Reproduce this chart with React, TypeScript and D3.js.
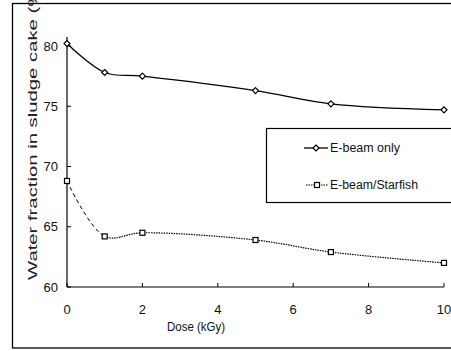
import React from "react";
import * as d3 from "d3";

const doses = [0, 1, 2, 5, 7, 10];
const ebeamOnly = [80.2, 77.8, 77.5, 76.3, 75.2, 74.7];
const ebeamStarfish = [68.8, 64.2, 64.5, 63.9, 62.9, 62.0];
const xTicks = [0, 2, 4, 6, 8, 10];
const yTicks = [60, 65, 70, 75, 80];
const seriesNames = ["E-beam only", "E-beam/Starfish"];

const W = 451;
const H = 351;

export default function App() {
  const x = d3.scaleLinear().domain([0, 10]).range([67, 444]);
  const y = d3.scaleLinear().domain([60, 80]).range([287, 46]);
  const font = "'Liberation Sans', Arial, sans-serif";

  const line = d3
    .line<number>()
    .x((_, i) => x(doses[i]))
    .y((v) => y(v))
    .curve(d3.curveCatmullRom.alpha(0.5));

  const topPath = line(ebeamOnly) || "";
  const botPath = line(ebeamStarfish) || "";
  const xSplit = x(doses[1]);

  const diamond = (cx: number, cy: number) =>
    `M${cx},${cy - 3}L${cx + 3},${cy}L${cx},${cy + 3}L${cx - 3},${cy}Z`;

  return (
    <svg width={W} height={H} style={{ position: "absolute", left: 0, top: 0, background: "#fff" }}>
      <defs>
        <clipPath id="leftPart">
          <rect x={0} y={0} width={xSplit} height={H} />
        </clipPath>
        <clipPath id="rightPart">
          <rect x={xSplit} y={0} width={W - xSplit} height={H} />
        </clipPath>
      </defs>
      {/* outer frame */}
      <rect x={12.5} y={3.5} width={460} height={344.5} fill="none" stroke="#000" strokeWidth={1.3} />

      {/* axes */}
      <line x1={67} y1={37} x2={67} y2={y(60)} stroke="#000" strokeWidth={1.2} />
      <line x1={67} y1={y(60)} x2={444} y2={y(60)} stroke="#000" strokeWidth={1.2} />
      {yTicks.map((t) => (
        <g key={"y" + t}>
          <line x1={67} x2={71} y1={y(t)} y2={y(t)} stroke="#000" strokeWidth={1} />
          <text x={58} y={y(t)} dy="0.36em" textAnchor="end" fontFamily={font} fontSize={13} fill="#111">
            {t}
          </text>
        </g>
      ))}
      {xTicks.map((t) => (
        <g key={"x" + t}>
          <line x1={x(t)} x2={x(t)} y1={y(60)} y2={y(60) - 4} stroke="#000" strokeWidth={1} />
          <text x={x(t)} y={314} textAnchor="middle" fontFamily={font} fontSize={13} fill="#111">
            {t}
          </text>
        </g>
      ))}
      <text x={196} y={331} textAnchor="middle" fontFamily={font} fontSize={12} fill="#111" textLength={58} lengthAdjust="spacingAndGlyphs">
        Dose (kGy)
      </text>
      <text
        transform="translate(37,280) rotate(-90)"
        x={0}
        y={0}
        textAnchor="start"
        fontFamily={font}
        fontSize={12}
        fill="#222"
        textLength={298}
        lengthAdjust="spacingAndGlyphs"
      >
        Water fraction in sludge cake (%)
      </text>

      {/* series */}
      <path d={topPath} fill="none" stroke="#000" strokeWidth={1.3} />
      <path d={botPath} fill="none" stroke="#000" strokeWidth={1} strokeDasharray="4,3" clipPath="url(#leftPart)" />
      <path d={botPath} fill="none" stroke="#000" strokeWidth={1.2} strokeDasharray="1.5,1" clipPath="url(#rightPart)" />
      {ebeamOnly.map((v, i) => (
        <path key={"d" + i} d={diamond(x(doses[i]), y(v))} fill="#fff" stroke="#000" strokeWidth={1.2} />
      ))}
      {ebeamStarfish.map((v, i) => (
        <rect key={"s" + i} x={x(doses[i]) - 2.5} y={y(v) - 2.5} width={5} height={5} fill="#fff" stroke="#000" strokeWidth={1.2} />
      ))}

      {/* legend */}
      <rect x={266.5} y={128.5} width={200} height={74} fill="#fff" stroke="#000" strokeWidth={1.2} />
      <line x1={304} x2={328} y1={148} y2={148} stroke="#000" strokeWidth={1.3} />
      <path d={diamond(316, 148)} fill="#fff" stroke="#000" strokeWidth={1.2} />
      <text x={330} y={152} fontFamily={font} fontSize={12.5} fill="#111" textLength={70} lengthAdjust="spacingAndGlyphs">
        {seriesNames[0]}
      </text>
      <line x1={306} x2={328} y1={185} y2={185} stroke="#000" strokeWidth={1.2} strokeDasharray="1.5,1" />
      <rect x={314.5} y={182.5} width={5} height={5} fill="#fff" stroke="#000" strokeWidth={1.2} />
      <text x={330} y={189} fontFamily={font} fontSize={12.5} fill="#111" textLength={88} lengthAdjust="spacingAndGlyphs">
        {seriesNames[1]}
      </text>
    </svg>
  );
}
